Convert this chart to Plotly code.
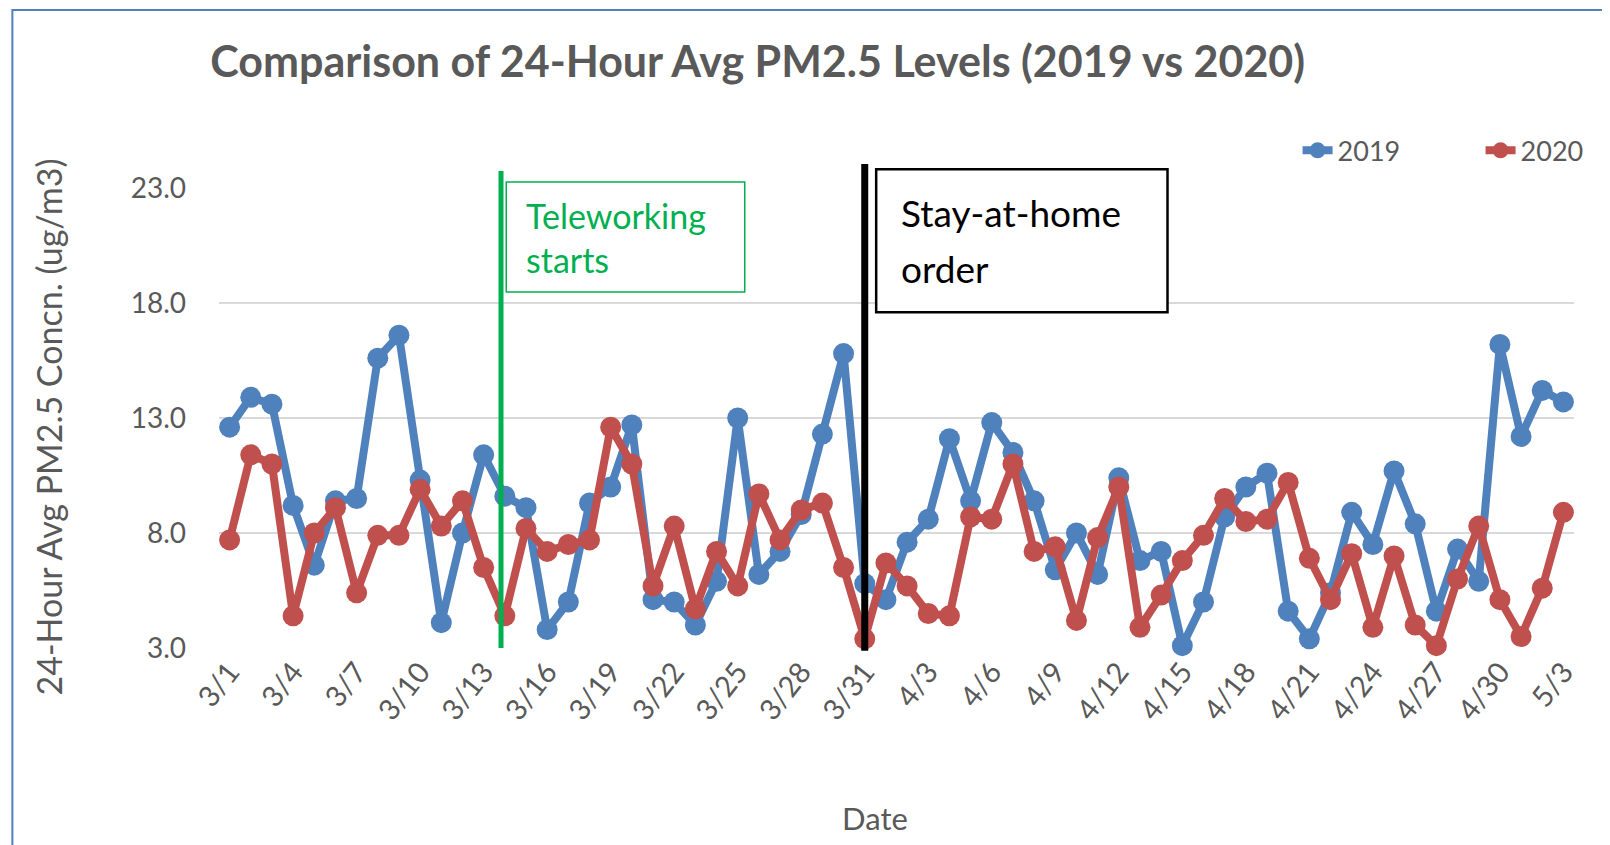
import plotly.graph_objects as go

dates = ["3/1", "3/2", "3/3", "3/4", "3/5", "3/6", "3/7", "3/8", "3/9", "3/10",
         "3/11", "3/12", "3/13", "3/14", "3/15", "3/16", "3/17", "3/18", "3/19", "3/20",
         "3/21", "3/22", "3/23", "3/24", "3/25", "3/26", "3/27", "3/28", "3/29", "3/30",
         "3/31", "4/1", "4/2", "4/3", "4/4", "4/5", "4/6", "4/7", "4/8", "4/9",
         "4/10", "4/11", "4/12", "4/13", "4/14", "4/15", "4/16", "4/17", "4/18", "4/19",
         "4/20", "4/21", "4/22", "4/23", "4/24", "4/25", "4/26", "4/27", "4/28", "4/29",
         "4/30", "5/1", "5/2", "5/3"]

pm2019 = [12.6, 13.9, 13.6, 9.2, 6.6, 9.4, 9.5, 15.6, 16.6, 10.3,
          4.1, 8.0, 11.4, 9.6, 9.1, 3.8, 5.0, 9.3, 10.0, 12.7,
          5.1, 5.0, 4.0, 5.9, 13.0, 6.2, 7.2, 8.8, 12.3, 15.8,
          5.8, 5.1, 7.6, 8.6, 12.1, 9.4, 12.8, 11.5, 9.4, 6.4,
          8.0, 6.2, 10.4, 6.8, 7.2, 3.1, 5.0, 8.7, 10.0, 10.6,
          4.6, 3.4, 5.4, 8.9, 7.5, 10.7, 8.4, 4.6, 7.3, 5.9,
          16.2, 12.2, 14.2, 13.7]

pm2020 = [7.7, 11.4, 11.0, 4.4, 8.0, 9.1, 5.4, 7.9, 7.9, 9.9,
          8.3, 9.4, 6.5, 4.4, 8.2, 7.2, 7.5, 7.7, 12.6, 11.0,
          5.7, 8.3, 4.7, 7.2, 5.7, 9.7, 7.7, 9.0, 9.3, 6.5,
          3.4, 6.7, 5.7, 4.5, 4.4, 8.7, 8.6, 11.0, 7.2, 7.4,
          4.2, 7.8, 10.0, 3.9, 5.3, 6.8, 7.9, 9.5, 8.5, 8.6,
          10.2, 6.9, 5.1, 7.1, 3.9, 7.0, 4.0, 3.1, 6.0, 8.3,
          5.1, 3.5, 5.6, 8.9]

tick_dates = dates[::3]
y_ticks = [3, 8, 13, 18, 23]

BLUE = "#4F81BD"
RED = "#C0504D"
GRAY = "#595959"
FONT = "Lato"

fig = go.Figure()
fig.add_trace(go.Scatter(x=dates, y=pm2019, name="2019", mode="lines+markers",
                         line=dict(color=BLUE, width=8), marker=dict(size=21, color=BLUE),
                         cliponaxis=False))
fig.add_trace(go.Scatter(x=dates, y=pm2020, name="2020", mode="lines+markers",
                         line=dict(color=RED, width=8), marker=dict(size=21, color=RED),
                         cliponaxis=False))

shapes = [
    # chart border
    dict(type="rect", xref="paper", yref="paper", x0=-0.1525, x1=1.05, y0=-0.5, y1=1.387,
         line=dict(color=BLUE, width=2), layer="below"),
    # teleworking line
    dict(type="line", xref="x", yref="paper", x0=12.82, x1=12.82, y0=0, y1=1.037,
         line=dict(color="#00B050", width=5), layer="above"),
    dict(type="rect", xref="paper", yref="paper", x0=0.212, x1=0.388, y0=0.774, y1=1.013,
         line=dict(color="#00B050", width=1.5), fillcolor="white", layer="above"),
    # stay-at-home line
    dict(type="line", xref="x", yref="paper", x0=30, x1=30, y0=-0.006, y1=1.052,
         line=dict(color="black", width=7), layer="above"),
    dict(type="rect", xref="paper", yref="paper", x0=0.485, x1=0.700, y0=0.730, y1=1.041,
         line=dict(color="black", width=2.5), fillcolor="white", layer="above"),
]

def box_text(text, x, y, size, color):
    return dict(text=text, xref="paper", yref="paper", x=x, y=y,
                xanchor="left", yanchor="middle", align="left", showarrow=False,
                font=dict(family=FONT, size=size, color=color))

annotations = [
    box_text("Teleworking", 0.225, 0.941, 34, "#00B050"),
    box_text("starts", 0.225, 0.844, 34, "#00B050"),
    box_text("Stay-at-home", 0.502, 0.947, 37, "black"),
    box_text("order", 0.502, 0.826, 37, "black"),
    dict(text="Date", xref="paper", yref="paper", x=0.484, y=-0.369,
         xanchor="center", yanchor="middle", showarrow=False,
         font=dict(family=FONT, size=31, color=GRAY)),
    dict(text="24-Hour Avg PM2.5 Concn. (ug/m3)", xref="paper", yref="paper",
         x=-0.126, y=0.48, xanchor="center", yanchor="middle", textangle=-90,
         showarrow=False, font=dict(family=FONT, size=34, color=GRAY)),
]

fig.update_layout(
    width=1602, height=837,
    margin=dict(l=211, r=36, t=180, b=197, autoexpand=False),
    paper_bgcolor="white", plot_bgcolor="white",
    title=dict(text="<b>Comparison of 24-Hour Avg PM2.5 Levels (2019 vs 2020)</b>",
               x=0.468, xanchor="center", y=0.935, yanchor="middle",
               font=dict(family=FONT, size=43, color=GRAY)),
    legend=dict(orientation="h", x=0.796, xanchor="left", y=1.081, yanchor="middle",
                entrywidth=138, entrywidthmode="pixels",
                font=dict(family=FONT, size=27, color=GRAY), bgcolor="rgba(0,0,0,0)"),
    shapes=shapes,
    annotations=annotations,
    xaxis=dict(type="category", range=[-0.5, 63.5], tickmode="array",
               tickvals=tick_dates, ticktext=tick_dates, tickangle=-52,
               showgrid=False, showline=False, zeroline=False,
               tickfont=dict(family=FONT, size=29, color=GRAY)),
    yaxis=dict(range=[3, 23], tickmode="array", tickvals=y_ticks, tickformat=".1f",
               showgrid=True, gridcolor="#D9D9D9", gridwidth=2, zeroline=False,
               showline=False, ticklabelstandoff=32,
               tickfont=dict(family=FONT, size=28, color=GRAY)),
)

fig.write_html("out.html")
